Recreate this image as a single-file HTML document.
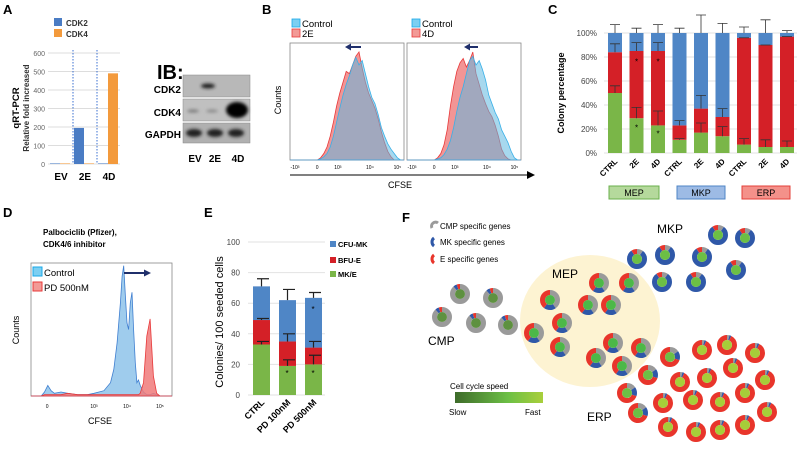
<!DOCTYPE html>
<html><head><meta charset="utf-8"><style>
body{margin:0;background:#fff}
svg{display:block;font-family:"Liberation Sans",Arial,sans-serif}
</style></head><body>
<svg id="fig" width="800" height="450" viewBox="0 0 800 450">
<defs>
<filter id="blur1"><feGaussianBlur stdDeviation="1.5"/></filter>
<linearGradient id="speed" x1="0" x2="1"><stop offset="0" stop-color="#3e6b2a"/><stop offset="0.6" stop-color="#6cbf45"/><stop offset="1" stop-color="#a9cf3b"/></linearGradient>
</defs>
<g id="panelA">
<text x="3" y="14" font-size="13" font-weight="bold">A</text>
<rect x="54" y="18" width="8" height="8" fill="#4a7cc4"/>
<text x="66" y="26" font-size="8" font-weight="bold" fill="#333">CDK2</text>
<rect x="54" y="29" width="8" height="8" fill="#f39a3c"/>
<text x="66" y="37" font-size="8" font-weight="bold" fill="#333">CDK4</text>
<text transform="translate(19,108) rotate(-90)" text-anchor="middle" font-size="9.5" font-weight="bold">qRT-PCR</text>
<text transform="translate(29,108) rotate(-90)" text-anchor="middle" font-size="8" font-weight="bold" fill="#333">Relative fold increased</text>
<g id="aChart"></g>
</g>
<g id="blot">
<text x="157" y="79" font-size="20" font-weight="bold">IB:</text>
<text x="181" y="93" font-size="10" font-weight="bold" text-anchor="end">CDK2</text>
<text x="181" y="116" font-size="10" font-weight="bold" text-anchor="end">CDK4</text>
<text x="181" y="138" font-size="10" font-weight="bold" text-anchor="end">GAPDH</text>
<rect x="183" y="75" width="67" height="22" fill="#b8b8b8" stroke="#888" stroke-width="0.5"/>
<rect x="183" y="99" width="67" height="22" fill="#c0c0c0" stroke="#888" stroke-width="0.5"/>
<rect x="183" y="123" width="67" height="20" fill="#b0b0b0" stroke="#888" stroke-width="0.5"/>
<g filter="url(#blur1)">
<ellipse cx="208" cy="86" rx="7" ry="2.5" fill="#222"/>
<ellipse cx="193" cy="111" rx="6" ry="1.5" fill="#777"/>
<ellipse cx="212" cy="111" rx="6" ry="1.5" fill="#888"/>
<ellipse cx="237" cy="110" rx="11" ry="8" fill="#000"/>
<ellipse cx="194" cy="133" rx="8" ry="4" fill="#222"/>
<ellipse cx="215" cy="133" rx="8" ry="4" fill="#222"/>
<ellipse cx="236" cy="133" rx="8" ry="4" fill="#222"/>
</g>
<text x="195" y="162" font-size="10" font-weight="bold" text-anchor="middle">EV</text>
<text x="215" y="162" font-size="10" font-weight="bold" text-anchor="middle">2E</text>
<text x="238" y="162" font-size="10" font-weight="bold" text-anchor="middle">4D</text>
</g>
<g id="panelB">
<text x="262" y="14" font-size="13" font-weight="bold">B</text>
<text transform="translate(281,100) rotate(-90)" text-anchor="middle" font-size="9">Counts</text>
<line x1="290" y1="175" x2="530" y2="175" stroke="#000" stroke-width="1"/>
<polygon points="535,175 527,171 527,179" fill="#000"/>
<text x="400" y="188" font-size="9" text-anchor="middle">CFSE</text>
<g id="bCharts"></g>
</g>
<g id="panelC">
<text x="548" y="14" font-size="13" font-weight="bold">C</text>
<text transform="translate(564,93) rotate(-90)" text-anchor="middle" font-size="9" font-weight="bold">Colony percentage</text>
<g id="cChart"></g>
<rect x="609" y="186" width="50" height="13" fill="#b5d99c" stroke="#6ab04c"/>
<text x="634" y="196" font-size="9" text-anchor="middle">MEP</text>
<rect x="677" y="186" width="48" height="13" fill="#9dbbe5" stroke="#4f86c6"/>
<text x="701" y="196" font-size="9" text-anchor="middle">MKP</text>
<rect x="742" y="186" width="48" height="13" fill="#f4918a" stroke="#e3403a"/>
<text x="766" y="196" font-size="9" text-anchor="middle">ERP</text>
</g>
<g id="panelD">
<text x="3" y="217" font-size="13" font-weight="bold">D</text>
<text x="43" y="235" font-size="8" font-weight="bold">Palbociclib (Pfizer),</text>
<text x="43" y="247" font-size="8" font-weight="bold">CDK4/6 inhibitor</text>
<text transform="translate(19,330) rotate(-90)" text-anchor="middle" font-size="9">Counts</text>
<text x="100" y="424" font-size="9" text-anchor="middle">CFSE</text>
<g id="dChart"></g>
</g>
<g id="panelE">
<text x="204" y="217" font-size="13" font-weight="bold">E</text>
<text transform="translate(223,322) rotate(-90)" text-anchor="middle" font-size="11">Colonies/ 100 seeded cells</text>
<g id="eChart"></g>
</g>
<g id="panelF">
<text x="402" y="222" font-size="13" font-weight="bold">F</text>
<ellipse cx="590" cy="321" rx="70" ry="66" fill="#fdf3d2"/>
<path d="M432,228 a4,4 0 0 1 6,-5" stroke="#9a9a9a" stroke-width="3" fill="none"/>
<text x="440" y="229" font-size="8">CMP specific genes</text>
<path d="M434,238 a5,5 0 0 0 0,8" stroke="#2f58a8" stroke-width="3" fill="none"/>
<text x="440" y="245" font-size="8">MK specific genes</text>
<path d="M434,255 a5,5 0 0 0 0,8" stroke="#e8352b" stroke-width="3" fill="none"/>
<text x="440" y="262" font-size="8">E specific genes</text>
<text x="657" y="233" font-size="12">MKP</text>
<text x="552" y="278" font-size="12">MEP</text>
<text x="428" y="345" font-size="12">CMP</text>
<text x="587" y="421" font-size="12">ERP</text>
<text x="450" y="389" font-size="8">Cell cycle speed</text>
<rect x="455" y="392" width="88" height="11" fill="url(#speed)"/>
<text x="449" y="415" font-size="8">Slow</text>
<text x="525" y="415" font-size="8">Fast</text>
<g id="cells"></g>
</g>
</svg>
<script>
const NS="http://www.w3.org/2000/svg";
function mk(parent,tag,attrs,text){const e=document.createElementNS(NS,tag);for(const k in attrs)e.setAttribute(k,attrs[k]);if(text!==undefined)e.textContent=text;parent.appendChild(e);return e;}

/* ---------- Panel A data ---------- */
const aCategories=["EV","2E","4D"];
const aCDK2=[3,195,3];
const aCDK4=[3,3,490];
const aTicks=[0,100,200,300,400,500,600];

/* ---------- Panel B data ---------- */
const bU=[0.7,0.8,0.9,1.0,1.1,1.2,1.3,1.4,1.5,1.6,1.7,1.8,1.9,2.0,2.1,2.2,2.3,2.4,2.5,2.6,2.7,2.8,2.9,3.0,3.1,3.2,3.3,3.4];
const bControl1=[0,1,3,6,12,22,35,48,60,70,78,88,95,88,92,80,68,58,52,42,30,22,15,10,6,2,0,0];
const b2E=[0,2,6,12,22,35,50,62,72,82,80,88,96,100,85,72,62,55,48,38,26,16,8,3,0,0,0,0];
const bControl2=[0,1,2,5,10,18,30,45,58,68,80,92,96,88,92,84,74,60,52,44,38,28,22,16,8,2,0,0];
const b4D=[0,2,6,14,28,50,68,82,90,94,86,92,100,80,70,60,52,45,40,32,22,10,4,1,0,0,0,0];
const bTickLabels=["-10³","0","10³","10⁴","10⁵"];
const bTickU=[0,0.69,1.34,2.34,3.2];

/* ---------- Panel C data ---------- */
const cCategories=["CTRL","2E","4D","CTRL","2E","4D","CTRL","2E","4D"];
const cGreen=[50,29,23,11,17,14,7,5,5];
const cRed=[34,56,62,12,20,16,89,85,92];
const cBlue=[16,15,15,77,63,70,4,10,3];
const cErrGreen=[56,38,35,12,25,22,12,11,10];
const cErrRed=[91,92,92,27,48,37,96,90,97];
const cErrBlue=[107,104,107,104,115,108,105,111,102];
const cTicks=[0,20,40,60,80,100];

/* ---------- Panel D data ---------- */
const dU=[1.4,1.5,1.6,1.7,1.8,2.0,2.2,2.5,2.8,3.0,3.3,3.5,3.6,3.7,3.8,3.85,3.9,3.95,4.0,4.05,4.1,4.15,4.2,4.25,4.3,4.35,4.4,4.5,4.6,4.7,4.8,4.9,5.0,5.1];
const dControl=[0,3,8,4,2,3,2,1,1,2,4,10,20,40,70,90,98,75,55,50,70,78,50,25,10,12,8,3,1,1,2,1,0,0];
const dPD=[0,1,1,1,1,1,2,1,1,1,1,1,1,1,1,1,1,1,1,1,1,1,1,1,1,1,2,10,45,58,15,2,0,0];
const dTickLabels=["0","10³","10⁴","10⁵"];
const dTickU=[1.58,3,4,5];

/* ---------- Panel E data ---------- */
const eCategories=["CTRL","PD 100nM","PD 500nM"];
const eMKE=[33,19,20];
const eBFUE=[16,16,11];
const eCFUMK=[22,27,32.5];
const eErrMKE=[35,23,26];
const eErrBFUE=[50,40,35];
const eErrCFUMK=[76,69,67];
const eTicks=[0,20,40,60,80,100];

/* ---------- Panel A ---------- */
(function(){
 const g=document.getElementById('aChart');
 const yA=v=>164-v*0.185;
 aTicks.forEach(t=>{
  const l=mk(g,'line',{x1:48,x2:120,y1:yA(t),y2:yA(t),stroke:'#ddd','stroke-width':1});
  
  
  const tx=mk(g,'text',{x:45,y:yA(t)+3,'font-size':7,'text-anchor':'end',fill:'#666'},t);
  
  
 });
 [73,97].forEach(x=>{const d=mk(g,'line',{x1:x,x2:x,y1:50,y2:164,stroke:'#3a6fd0','stroke-dasharray':'1.5,1.5','stroke-width':1});
  
  });
 aCategories.forEach((c,i)=>{
  const x0=50+i*24;
  const b1=mk(g,'rect',{x:x0,y:yA(aCDK2[i]),width:10,height:yA(0)-yA(aCDK2[i]),fill:'#4a7cc4'});
  
  
  const b2=mk(g,'rect',{x:x0+10,y:yA(aCDK4[i]),width:10,height:yA(0)-yA(aCDK4[i]),fill:'#f39a3c'});
  
  
  const t=mk(g,'text',{x:x0+11,y:180,'font-size':10,'font-weight':'bold','text-anchor':'middle'},c);
  
  
 });
})();

/* ---------- Panel B ---------- */
(function(){
 const g=document.getElementById('bCharts');
 const plots=[{x0:290,ctrl:bControl1,trt:b2E,lab:'2E',arr:[361,345]},{x0:407,ctrl:bControl2,trt:b4D,lab:'4D',arr:[478,464]}];
 plots.forEach((p,k)=>{
  const px=u=>p.x0+5+u*32, py=c=>160-c*1.08;
  const box=mk(g,'rect',{x:p.x0,y:43,width:114,height:117,fill:'none',stroke:'#888','stroke-width':0.8});
  
  
  function area(vals,fill,stroke,name,op){
   let d='M'+p.x0+','+py(0)+' L'+px(bU[0])+','+py(0);
   vals.forEach((v,i)=>d+=' L'+px(bU[i]).toFixed(1)+','+py(v).toFixed(1));
   d+=' L'+(p.x0+114)+','+py(0)+' Z';
   const e=mk(g,'path',{d:d,fill:fill,'fill-opacity':op,stroke:stroke,'stroke-width':0.8});
   
   
  }
  area(p.trt,'#f08383','#e8393a','histogram-'+p.lab.toLowerCase(),0.85);
  area(p.ctrl,'#5fb8e0','#38b0e8','histogram-control-'+(k+1),0.55);
  bTickU.forEach((u,i)=>{
   const t=mk(g,'text',{x:px(u),y:169,'font-size':5,'text-anchor':'middle'},bTickLabels[i]);
   
   
  });
  const a=mk(g,'line',{x1:p.arr[0],y1:47,x2:p.arr[1]+4,y2:47,stroke:'#1f2f6b','stroke-width':2});
  
  
  const ah=mk(g,'polygon',{points:`${p.arr[1]},47 ${p.arr[1]+6},43.5 ${p.arr[1]+6},50.5`,fill:'#1f2f6b'});
  
  
  const lx=p.x0+2+(k?3:0);
  const s1=mk(g,'rect',{x:lx,y:19,width:8,height:8,fill:'#7ccff2',stroke:'#1aa8e8','stroke-width':0.8});
  
  
  const t1=mk(g,'text',{x:lx+10,y:27,'font-size':9.5},'Control');
  
  
  const s2=mk(g,'rect',{x:lx,y:29,width:8,height:8,fill:'#f29a96',stroke:'#e8393a','stroke-width':0.8});
  
  
  const t2=mk(g,'text',{x:lx+10,y:37,'font-size':9.5},p.lab);
  
  
 });
})();

/* ---------- Panel C ---------- */
(function(){
 const g=document.getElementById('cChart');
 const yC=v=>153-v*1.2, xC=i=>608+i*21.5;
 cTicks.forEach(t=>{
  const l=mk(g,'line',{x1:604,x2:797,y1:yC(t),y2:yC(t),stroke:'#e2e2e2'});
  
  
  const tx=mk(g,'text',{x:597,y:yC(t)+3,'font-size':8,'text-anchor':'end',fill:'#444'},t+'%');
  
  
 });
 cCategories.forEach((c,i)=>{
  const x=xC(i),w=14;
  const segs=[[0,cGreen[i],'#7ab648','green'],[cGreen[i],cGreen[i]+cRed[i],'#d42027','red'],[cGreen[i]+cRed[i],cGreen[i]+cRed[i]+cBlue[i],'#4f86c6','blue']];
  segs.forEach(s=>{
   const r=mk(g,'rect',{x:x,y:yC(s[1]),width:w,height:yC(s[0])-yC(s[1]),fill:s[2]});
   
   
  });
  [[cGreen[i],cErrGreen[i]],[cGreen[i]+cRed[i],cErrRed[i]],[100,cErrBlue[i]]].forEach(e=>{
   const l=mk(g,'path',{d:`M${x+w/2},${yC(e[0])} V${yC(e[1])} M${x+2},${yC(e[1])} H${x+w-2}`,stroke:'#333','stroke-width':0.8,fill:'none'});
   
   
  });
  const t=mk(g,'text',{'font-size':8,'font-weight':'bold','text-anchor':'end',transform:`translate(${x+10},162) rotate(-45)`},c);
  
  
 });
 [[1,77],[1,22],[2,77],[2,17]].forEach(s=>{
  const t=mk(g,'text',{x:xC(s[0])+7,y:yC(s[1])+4,'font-size':8,'text-anchor':'middle'},'*');
  
  
 });
})();

/* ---------- Panel D ---------- */
(function(){
 const g=document.getElementById('dChart');
 const px=u=>94+(u-3)*33, py=c=>396-c*1.33;
 const box=mk(g,'rect',{x:31,y:263,width:141,height:133,fill:'none',stroke:'#888','stroke-width':0.8});
 
 
 function area(vals,fill,stroke,name,op){
  let d='M31,396 L'+px(dU[0])+',396';
  vals.forEach((v,i)=>d+=' L'+px(dU[i]).toFixed(1)+','+py(v).toFixed(1));
  d+=' L172,396 Z';
  const e=mk(g,'path',{d:d,fill:fill,'fill-opacity':op,stroke:stroke,'stroke-width':0.8});
  
  
 }
 area(dControl,'#8ec3ea','#3f7fd0','histogram-control-d',0.85);
 area(dPD,'#f07a7a','#e8393a','histogram-pd500',0.85);
 dTickU.forEach((u,i)=>{
  const t=mk(g,'text',{x:px(u),y:408,'font-size':5,'text-anchor':'middle'},dTickLabels[i]);
  
  
 });
 const s1=mk(g,'rect',{x:33,y:267,width:9,height:9,fill:'#7ccff2',stroke:'#1aa8e8'});
 
 
 const t1=mk(g,'text',{x:44,y:276,'font-size':9.5},'Control');
 
 
 const s2=mk(g,'rect',{x:33,y:282,width:9,height:9,fill:'#f29a96',stroke:'#e8393a'});
 
 
 const t2=mk(g,'text',{x:44,y:291,'font-size':9.5},'PD 500nM');
 
 
 const a=mk(g,'line',{x1:124,y1:273,x2:145,y2:273,stroke:'#1f2f6b','stroke-width':2});
 
 
 const ah=mk(g,'polygon',{points:'151,273 144,269.5 144,276.5',fill:'#1f2f6b'});
 
 
})();

/* ---------- Panel E ---------- */
(function(){
 const g=document.getElementById('eChart');
 const yE=v=>395-v*1.53, xE=i=>253+i*26, w=17;
 eTicks.forEach(t=>{
  const l=mk(g,'line',{x1:248,x2:325,y1:yE(t),y2:yE(t),stroke:'#e2e2e2'});
  
  
  const tx=mk(g,'text',{x:240,y:yE(t)+3,'font-size':8,'text-anchor':'end',fill:'#444'},t);
  
  
 });
 eCategories.forEach((c,i)=>{
  const x=xE(i);
  const segs=[[0,eMKE[i],'#7ab648','mke'],[eMKE[i],eMKE[i]+eBFUE[i],'#d42027','bfue'],[eMKE[i]+eBFUE[i],eMKE[i]+eBFUE[i]+eCFUMK[i],'#4f86c6','cfumk']];
  segs.forEach(s=>{
   const r=mk(g,'rect',{x:x,y:yE(s[1]),width:w,height:yE(s[0])-yE(s[1]),fill:s[2]});
   
   
  });
  [[eMKE[i],eErrMKE[i]],[eMKE[i]+eBFUE[i],eErrBFUE[i]],[eMKE[i]+eBFUE[i]+eCFUMK[i],eErrCFUMK[i]]].forEach(e=>{
   const l=mk(g,'path',{d:`M${x+w/2},${yE(e[0])} V${yE(e[1])} M${x+4},${yE(e[1])} H${x+w-1}`,stroke:'#222','stroke-width':1.2,fill:'none'});
   
   
  });
  const t=mk(g,'text',{'font-size':9,'font-weight':'bold','text-anchor':'end',transform:`translate(${x+12},403) rotate(-45)`},c);
  
  
 });
 [[1,15],[2,15],[2,57]].forEach(s=>{
  const t=mk(g,'text',{x:xE(s[0])+8,y:yE(s[1])+4,'font-size':8,'text-anchor':'middle'},'*');
  
  
 });
 [['CFU-MK','#4f86c6',244],['BFU-E','#d42027',260],['MK/E','#7ab648',274]].forEach(L=>{
  const r=mk(g,'rect',{x:330,y:L[2]-3,width:6,height:6,fill:L[1]});
  
  
  const t=mk(g,'text',{x:338,y:L[2]+3,'font-size':7.5,'font-weight':'bold'},L[0]);
  
  
 });
})();

/* ---------- Panel F cells ---------- */
(function(){
 const g=document.getElementById('cells');
 const C=2*Math.PI*7.5;
 function cell(x,y,gr,bl,rd,center,name){
  const grp=mk(g,'g',{});
  
  
  let off=0;
  [[gr,'#9a9a9a'],[bl,'#2f58a8'],[rd,'#e8352b']].forEach(s=>{
   if(s[0]<=0)return;
   mk(grp,'circle',{cx:x,cy:y,r:7.5,fill:'none',stroke:s[1],'stroke-width':5,'stroke-dasharray':`${s[0]*C} ${C}`,'stroke-dashoffset':-off*C,transform:`rotate(-90 ${x} ${y})`});
   off+=s[0];
  });
  mk(grp,'circle',{cx:x,cy:y,r:5,fill:center});
 }
 const cmp=[[460,294],[493,298],[442,317],[476,323],[508,325]];
 cmp.forEach(p=>cell(p[0],p[1],0.88,0.06,0.06,'#5e9140','cell-cmp'));
 const mep=[[550,300],[599,283],[629,283],[588,305],[611,305],[562,323],[534,333],[560,347],[613,343],[641,348],[596,358],[622,366]];
 mep.forEach(p=>cell(p[0],p[1],0.4,0.2,0.4,'#4cb848','cell-mep'));
 const mkp=[[637,259],[665,255],[702,257],[718,235],[745,238],[736,270],[662,282],[696,282]];
 mkp.forEach(p=>cell(p[0],p[1],0.1,0.8,0.1,'#6cbf45','cell-mkp'));
 const erpMix=[[670,357],[648,375],[627,393],[638,413]];
 erpMix.forEach(p=>cell(p[0],p[1],0.15,0.15,0.7,'#6cbf45','cell-erp-early'));
 const erp=[[663,403],[680,382],[702,350],[727,345],[755,353],[733,368],[707,378],[765,380],[745,393],[720,402],[693,400],[767,412],[745,425],[720,430],[696,432],[668,427]];
 erp.forEach(p=>cell(p[0],p[1],0.04,0.03,0.93,'#a6ce39','cell-erp'));
})();
</script>
</body></html>
